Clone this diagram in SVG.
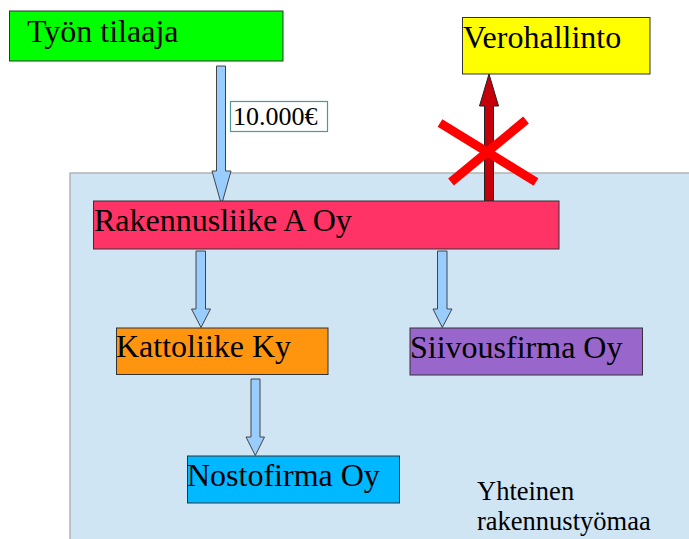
<svg xmlns="http://www.w3.org/2000/svg" width="689" height="539" viewBox="0 0 689 539">
<defs>
<style>
.box{stroke:#333;stroke-width:1}
.t{font-family:"Liberation Serif","Times New Roman",serif;fill:#000;font-size:32px}
.s{font-size:26.5px}
.blue{fill:#99ccff;stroke:#444;stroke-width:1}
</style>
</defs>
<rect width="689" height="539" fill="#fff"/>
<g id="site">
<rect x="70" y="173" width="625" height="370" fill="#cfe5f3" stroke="#b3b3b3" stroke-width="1.5"/>
<text class="t s" x="477" y="499.5">Yhteinen</text>
<text class="t s" x="477" y="530">rakennustyömaa</text>
</g>
<g id="connectors">
<path class="blue" d="M216.5,66 H225.5 V171 H231 L221.5,205 L212,171 H216.5 Z"/>
<path class="blue" d="M196,251 H205.5 V309 H210.5 L201,327.5 L191.5,309 H196 Z"/>
<path class="blue" d="M437.5,251 H447 V309 H452 L442.3,327.5 L433,309 H437.5 Z"/>
<path class="blue" d="M251,379 H260 V437 H264.5 L255.3,455.5 L246,437 H251 Z"/>
<path d="M484.5,201 V106 H479.5 L489,74 L498.5,106 H493.5 V201 Z" fill="#c5000b" stroke="#222" stroke-width="1"/>
<g id="cross" stroke="#ff0000" stroke-width="9">
<line x1="440" y1="123" x2="536" y2="182"/>
<line x1="526" y1="120" x2="451" y2="182"/>
</g>
</g>
<g id="amount">
<rect x="230.5" y="101.5" width="97" height="30" fill="#fff" stroke="#4a9a9a" stroke-width="1.2"/>
<text class="t" x="233" y="125" font-size="26" style="font-size:26px">10.000€</text>
</g>
<g id="tilaaja">
<rect class="box" x="9.5" y="11" width="273.5" height="50" fill="#00ff00"/>
<text class="t" x="27" y="42">Työn tilaaja</text>
</g>
<g id="verohallinto">
<rect class="box" x="462.5" y="17.5" width="187.5" height="56.5" fill="#ffff00"/>
<text class="t" x="463" y="48">Verohallinto</text>
</g>
<g id="rakennusliike">
<rect class="box" x="93.5" y="201" width="465.5" height="48" fill="#ff3366"/>
<text class="t" x="94" y="231">Rakennusliike A Oy</text>
</g>
<g id="kattoliike">
<rect class="box" x="116.5" y="328" width="211.5" height="46.5" fill="#ff950e"/>
<text class="t" x="116" y="357">Kattoliike Ky</text>
</g>
<g id="siivousfirma">
<rect class="box" x="410" y="328" width="232.5" height="47" fill="#9966cc"/>
<text class="t" x="410" y="358">Siivousfirma Oy</text>
</g>
<g id="nostofirma">
<rect class="box" x="187.5" y="456" width="212" height="47" fill="#00b8ff"/>
<text class="t" x="187" y="486">Nostofirma Oy</text>
</g>
</svg>
